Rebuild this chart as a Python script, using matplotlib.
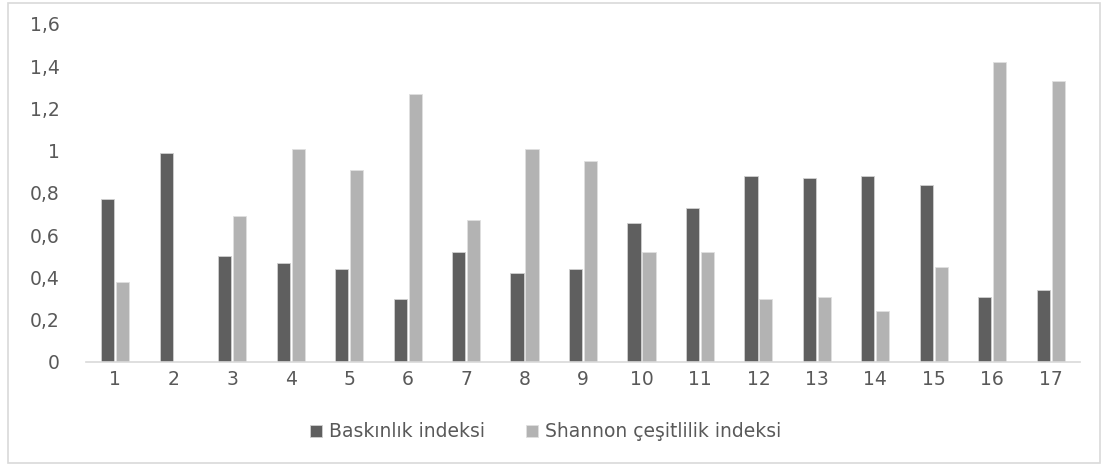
import numpy as np
import matplotlib.pyplot as plt
from matplotlib.patches import Rectangle

sites = [str(i) for i in range(1, 18)]
baskinlik = [0.77, 0.99, 0.50, 0.47, 0.44, 0.30, 0.52, 0.42, 0.44,
             0.66, 0.73, 0.88, 0.87, 0.88, 0.84, 0.31, 0.34]
shannon = [0.38, 0.0, 0.69, 1.01, 0.91, 1.27, 0.67, 1.01, 0.95,
           0.52, 0.52, 0.30, 0.31, 0.24, 0.45, 1.42, 1.33]
yticks = [0, 0.2, 0.4, 0.6, 0.8, 1.0, 1.2, 1.4, 1.6]
ytick_labels = ['0', '0,2', '0,4', '0,6', '0,8', '1', '1,2', '1,4', '1,6']

plt.rcParams['font.family'] = ['DejaVu Sans']
txt_color = '#595959'

fig = plt.figure(figsize=(11.07, 4.66), dpi=100)
ax = fig.add_axes([0.0777, 0.2232, 0.8979, 0.7253])

x = np.arange(len(sites))
w = 0.225
off = 0.128
ax.bar(x - off, baskinlik, w, color='#5f5f5f', edgecolor='#d0d0d0', linewidth=0.6,
       label='Baskınlık indeksi')
ax.bar(x + off, shannon, w, color='#b3b3b3', edgecolor='#e0e0e0', linewidth=0.6,
       label='Shannon çeşitlilik indeksi')

ax.set_xlim(-0.5, len(sites) - 0.5)
ax.set_ylim(0, 1.6)
ax.set_xticks(x)
ax.set_xticklabels(sites)
ax.set_yticks(yticks)
ax.set_yticklabels(ytick_labels)
ax.tick_params(axis='both', length=0, labelsize=13.5, colors=txt_color)
ax.tick_params(axis='x', pad=6)
ax.tick_params(axis='y', pad=19)

for s in ['top', 'right', 'left']:
    ax.spines[s].set_visible(False)
ax.spines['bottom'].set_color('#d9d9d9')
ax.spines['bottom'].set_linewidth(1.2)

leg = fig.legend(loc='center', bbox_to_anchor=(0.493, 0.073), ncol=2, frameon=False,
                 fontsize=13.5, handlelength=0.65, handleheight=0.65, handletextpad=0.35,
                 columnspacing=2.2)
for t in leg.get_texts():
    t.set_color(txt_color)

# outer chart border
fig.patches.append(Rectangle((0.0072, 0.006), 0.9865, 0.988, transform=fig.transFigure,
                             fill=False, edgecolor='#d9d9d9', linewidth=1.2))

fig.savefig('out.png', dpi=100)
